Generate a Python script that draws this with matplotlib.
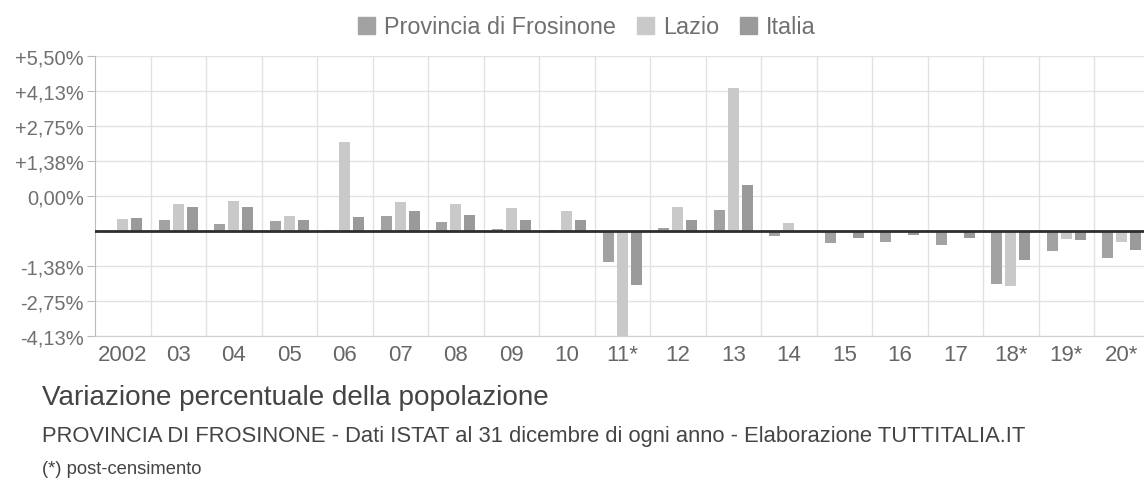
import matplotlib
matplotlib.use("Agg")
import matplotlib.pyplot as plt
from matplotlib.patches import Patch
import numpy as np

plt.rcParams['font.family'] = ['Liberation Sans', 'DejaVu Sans']

years = ["2002", "03", "04", "05", "06", "07", "08", "09", "10", "11*",
         "12", "13", "14", "15", "16", "17", "18*", "19*", "20*"]
provincia = [0.0, 0.45, 0.26, 0.40, 0.02, 0.59, 0.35, 0.08, 0.02, -1.22,
             0.12, 0.81, -0.20, -0.46, -0.42, -0.56, -2.07, -0.79, -1.06]
lazio = [0.49, 1.08, 1.17, 0.58, 3.50, 1.14, 1.06, 0.90, 0.78, -4.25,
         0.94, 5.60, 0.33, -0.03, -0.05, -0.03, -2.17, -0.30, -0.43]
italia = [0.52, 0.94, 0.95, 0.42, 0.55, 0.77, 0.63, 0.42, 0.42, -2.11,
          0.42, 1.81, -0.02, -0.26, -0.16, -0.26, -1.13, -0.34, -0.73]
series_names = ["Provincia di Frosinone", "Lazio", "Italia"]
series_colors = ["#a2a2a2", "#c9c9c9", "#9a9a9a"]

ytick_pos = [6.875, 5.5, 4.125, 2.75, 1.375, -1.375, -2.75, -4.125]
ytick_labels = ["+5,50%", "+4,13%", "+2,75%", "+1,38%", "0,00%",
                "-1,38%", "-2,75%", "-4,13%"]

W, H = 1144, 489
fig = plt.figure(figsize=(W / 100, H / 100), dpi=100)
ax = fig.add_axes([95 / W, (H - 337) / H, 1 - 95 / W, (337 - 57) / H])

x = np.arange(len(years))
bw = 0.2
off = 0.25
for k, (vals, col) in enumerate(zip([provincia, lazio, italia], series_colors)):
    ax.bar(x + (k - 1) * off, vals, width=bw, color=col, zorder=2)

ax.set_xlim(-0.5, (W - 95) / 55.5 - 0.5)
ax.set_ylim(-4.125, 6.875)

# grid
for gy in np.arange(-4.125, 6.876, 1.375):
    ax.axhline(gy, color="#e2e2e2", lw=1, zorder=0)
for gx in np.arange(0.5, len(years), 1.0):
    ax.axvline(gx, color="#e2e2e2", lw=1, zorder=0)
ax.axhline(0, color="#2e2e2e", lw=2, zorder=3)

ax.set_yticks(ytick_pos)
ax.set_yticklabels(ytick_labels, fontsize=14.5, color="#707070")
ax.set_xticks(x)
ax.set_xticklabels(years, fontsize=16, color="#666666")
ax.tick_params(axis="y", length=6, color="#bbbbbb", pad=2)
ax.tick_params(axis="x", length=0, pad=6)
for s in ["top", "right"]:
    ax.spines[s].set_visible(False)
ax.spines["left"].set_color("#bbbbbb")
ax.spines["bottom"].set_color("#d0d0d0")

handles = [Patch(facecolor=c, edgecolor=c) for c in series_colors]
fig.legend(handles, series_names, loc="center", bbox_to_anchor=(587 / W, 1 - 28 / H),
           ncol=3, frameon=False, fontsize=16.8, handlelength=0.72, handleheight=0.72,
           handletextpad=0.4, columnspacing=0.9, labelcolor="#707070")

fig.text(42 / W, 1 - 398 / H, "Variazione percentuale della popolazione",
         fontsize=20.1, color="#444444", va="center", ha="left")
fig.text(42 / W, 1 - 437 / H,
         "PROVINCIA DI FROSINONE - Dati ISTAT al 31 dicembre di ogni anno - Elaborazione TUTTITALIA.IT",
         fontsize=15.8, color="#444444", va="center", ha="left")
fig.text(42 / W, 1 - 470 / H, "(*) post-censimento",
         fontsize=13.2, color="#444444", va="center", ha="left")

fig.savefig("out.png", dpi=100, facecolor="white")
